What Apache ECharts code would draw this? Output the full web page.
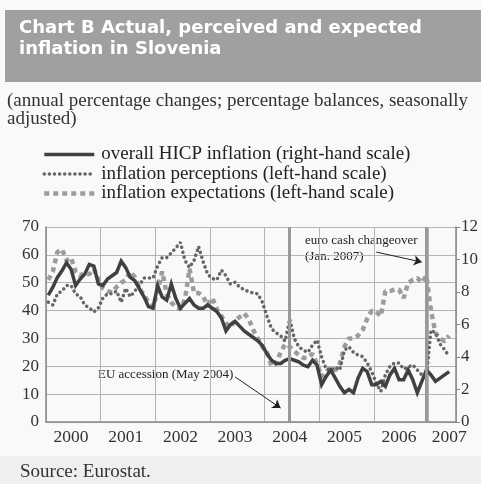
<!DOCTYPE html>
<html>
<head>
<meta charset="utf-8">
<script src="https://cdn.jsdelivr.net/npm/echarts@6/dist/echarts.min.js"></script>
<style>
  html, body { margin: 0; padding: 0; background: #f9f9f9; }
  #chart { width: 481px; height: 484px; }
</style>
</head>
<body>
<div id="chart"></div>
<script>
  // monthly categories, Jan 2000 - Jun 2007
  var years = ['2000', '2001', '2002', '2003', '2004', '2005', '2006', '2007'];
  var months = [];
  years.forEach(function (y) {
    for (var m = 1; m <= 12; m++) {
      if (y === '2007' && m > 6) break;
      months.push(y + '-' + (m < 10 ? '0' + m : m));
    }
  });

  // overall HICP inflation (right-hand scale)
  var hicp = [
    7.8, 8.3, 8.9, 9.3, 9.8, 9.4, 8.4, 8.8, 9.1, 9.7, 9.6, 8.5,
    8.4, 8.8, 9.0, 9.2, 9.9, 9.5, 8.9, 8.7, 8.2, 7.7, 7.1, 7.0,
    8.4, 7.7, 7.5, 8.5, 7.6, 7.0, 7.3, 7.6, 7.2, 7.0, 7.0, 7.2,
    7.0, 6.8, 6.4, 5.6, 6.0, 6.2, 5.9, 5.6, 5.4, 5.2, 5.0, 4.7,
    4.2, 3.8, 3.6, 3.6, 3.8, 3.9, 3.8, 3.7, 3.5, 3.4, 3.8, 3.5,
    2.3, 2.8, 3.2, 2.7, 2.2, 1.8, 2.0, 1.8, 2.7, 3.3, 3.1, 2.3,
    2.3, 2.5, 2.2, 2.9, 3.3, 2.6, 2.6, 3.2, 2.6, 1.8, 2.5, 3.2,
    2.9, 2.5, 2.7, 2.9, 3.1, null
  ];
  // inflation perceptions (left-hand scale)
  var perceptions = [
    43, 42, 46, 47, 49, 49, 46, 45, 42, 41, 39.5, 41,
    44.5, 46, 46, 47, 43, 48, 45, 47, 49, 51.7, 51.7, 51.7,
    56, 59, 59, 60.7, 62.5, 64.5, 58, 55.5, 58, 63, 57.5, 53,
    51.5, 51, 54.5, 52.5, 49.5, 50.2, 48.4, 47.5, 46.8, 46.3, 46, 43,
    38, 33.5, 32, 31, 29, 37, 30, 27, 25.8, 25, 27.6, 29.4,
    23.3, 19, 18.5, 19.7, 18.7, 25.8, 27, 25, 24, 23.5, 21.2, 18,
    14, 11, 17, 20, 21.2, 21.2, 19, 19.7, 20.5, 18.7, 16.9, 16.2,
    33, 32, 28, 26, 23.5, null
  ];
  // inflation expectations (left-hand scale)
  var expectations = [
    51, 54, 61, 62, 58, 59, 54, 52.5, 53.5, 53, 55, 51,
    48, 47, 46.5, 48.5, 50, 51, 54, 52, 48, 45.5, 43, 41.3,
    47, 54, 46, 43, 41, 40.5, 44, 55, 46.3, 46.3, 45, 42,
    44.5, 40.5, 38, 35.5, 34, 36.5, 37.7, 39, 37, 33, 30, 27,
    25, 20, 21, 25, 28, 27, 25.5, 24, 23, 23, 24.5, 21,
    16.2, 18, 19.7, 18.5, 21, 27, 30, 30, 31, 33, 37, 40,
    39.5, 38, 47, 47, 47.5, 47.5, 44.5, 49.9, 51, 51.7, 50, 52.5,
    40, 32, 30, 29, 31, null
  ];

  var serif = '"Liberation Serif", "DejaVu Serif", serif';

  var chart = echarts.init(document.getElementById('chart'));
  chart.setOption({
    backgroundColor: '#f9f9f9',
    animation: false,
    graphic: [
      { type: 'rect', left: 5, top: 10, shape: { width: 476, height: 72 }, style: { fill: '#a0a0a0' }, z: -1 },
      { type: 'rect', left: 0, top: 456, shape: { width: 481, height: 28 }, style: { fill: '#efefef' }, z: -1 },
      { type: 'text', left: 19, top: 18, style: { text: 'Chart B Actual, perceived and expected\ninflation in Slovenia', fill: '#ffffff', font: 'bold 18px "DejaVu Sans", sans-serif', lineHeight: 21 } },
      { type: 'text', left: 7, top: 92, style: { text: '(annual percentage changes; percentage balances, seasonally\nadjusted)', fill: '#333', font: '19px ' + serif, lineHeight: 18 } },
      { type: 'text', left: 98, top: 368, style: { text: 'EU accession (May 2004)', fill: '#222', font: '13px ' + serif } },
      { type: 'text', left: 305, top: 233, style: { text: 'euro cash changeover\n(Jan. 2007)', fill: '#222', font: '13px ' + serif, lineHeight: 16 } },
      { type: 'text', left: 20, top: 463, style: { text: 'Source: Eurostat.', fill: '#333', font: '19px ' + serif } }
    ],
    legend: {
      orient: 'vertical',
      left: 37,
      top: 140,
      itemWidth: 50,
      itemHeight: 10,
      itemGap: 0.5,
      data: ['overall HICP inflation (right-hand scale)', 'inflation perceptions (left-hand scale)', 'inflation expectations (left-hand scale)'],
      itemStyle: { color: 'transparent', borderWidth: 0 },
      lineStyle: { width: 'inherit' },
      textStyle: { fontFamily: serif, fontSize: 19, lineHeight: 18, color: '#222', padding: [0, 0, 0, 2] }
    },
    grid: { left: 46, right: 24, top: 227, bottom: 62 },
    xAxis: {
      type: 'category',
      data: months,
      boundaryGap: true,
      axisLine: { lineStyle: { color: '#888', width: 1.5 } },
      axisTick: { interval: function (i) { return i % 12 === 0; }, length: 4, lineStyle: { color: '#888' } },
      splitLine: { show: true, interval: function (i) { return i % 12 === 0; }, lineStyle: { color: '#b4b4b4', width: 1 } },
      axisLabel: {
        interval: function (i) { return i % 12 === 5 || i === 88; },
        formatter: function (v) { return v.slice(0, 4); },
        fontFamily: serif, fontSize: 17.5, color: '#333', margin: 6
      }
    },
    yAxis: [
      {
        type: 'value', min: 0, max: 70, interval: 10,
        axisLine: { show: true, lineStyle: { color: '#888', width: 1.5 } },
        axisTick: { show: false },
        splitLine: { lineStyle: { color: '#b4b4b4', width: 1 } },
        axisLabel: { fontFamily: serif, fontSize: 17, color: '#333', margin: 7 }
      },
      {
        type: 'value', min: 0, max: 12, interval: 2, position: 'right',
        axisLine: { show: true, lineStyle: { color: '#888', width: 1.5 } },
        axisTick: { show: true, length: 4, lineStyle: { color: '#888' } },
        splitLine: { show: false },
        axisLabel: { fontFamily: serif, fontSize: 17, color: '#333', margin: 5 }
      }
    ],
    series: [
      {
        name: 'inflation expectations (left-hand scale)',
        type: 'line', yAxisIndex: 0, data: expectations,
        symbol: 'none', silent: true,
        lineStyle: { color: '#9c9c9c', width: 4.5, type: [5, 4] },
        itemStyle: { color: '#9c9c9c' },
        markLine: {
          silent: true, symbol: 'none', label: { show: false },
          lineStyle: { color: '#999', width: 3, type: 'solid' },
          data: [{ xAxis: months[53] }, { xAxis: months[83] }]
        }
      },
      {
        name: 'inflation perceptions (left-hand scale)',
        type: 'line', yAxisIndex: 0, data: perceptions,
        symbol: 'none', silent: true,
        lineStyle: { color: '#666', width: 3.5, type: [0.1, 5], cap: 'round' },
        itemStyle: { color: '#666' },
        markLine: {
          silent: true, symbol: ['none', 'arrow'], symbolSize: 8, label: { show: false },
          lineStyle: { color: '#222', width: 1, type: 'solid' },
          data: [
            [{ coord: [months[41], 16.2] }, { coord: [months[51], 5] }],
            [{ coord: [months[72], 61] }, { coord: [months[82], 57.4] }]
          ]
        }
      },
      {
        name: 'overall HICP inflation (right-hand scale)',
        type: 'line', yAxisIndex: 1, data: hicp,
        symbol: 'none', silent: true,
        lineStyle: { color: '#404040', width: 3.5, join: 'miter' },
        itemStyle: { color: '#404040' }
      }
    ]
  });
</script>
</body>
</html>
